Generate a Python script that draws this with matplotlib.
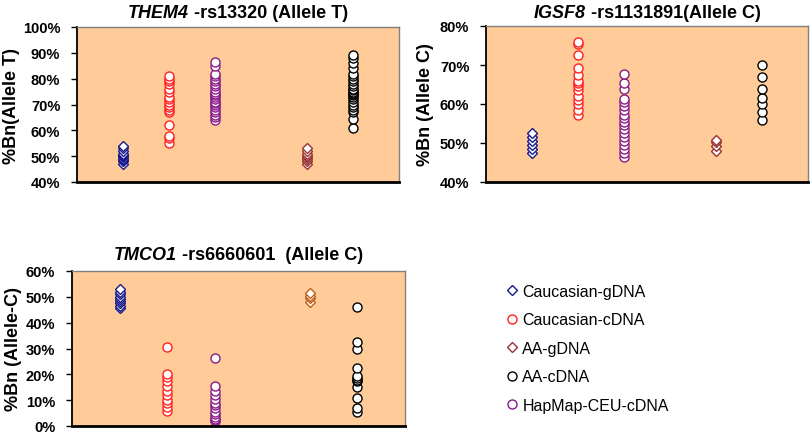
import numpy as np
import matplotlib
matplotlib.use('Agg')
import matplotlib.pyplot as plt

plt.rcParams['font.family'] = ['Liberation Sans', 'DejaVu Sans']

# x slot of each group on every panel
groups = ['Caucasian-gDNA', 'Caucasian-cDNA', 'HapMap-CEU-cDNA', 'AA-gDNA', 'AA-cDNA']
group_x = [1, 2, 3, 5, 6]
legend_order = ['Caucasian-gDNA', 'Caucasian-cDNA', 'AA-gDNA', 'AA-cDNA', 'HapMap-CEU-cDNA']

# THEM4 - rs13320 (Allele T), values in %
them4_cau_g = [47, 48, 48.5, 49, 49.5, 50, 50.5, 51, 52, 53, 54]
them4_cau_c = [55, 57, 58, 62, 67, 68, 69, 70, 71, 72, 73, 75, 76, 78, 79, 80, 81]
them4_hapmap = [64, 65, 66, 67, 68, 69, 70, 70.5, 71, 72, 73, 73.5, 74, 75, 76, 77,
                78, 79, 80, 81, 82, 85, 86.5]
them4_aa_g = [47, 48, 49, 49.5, 50, 51, 52, 53]
them4_aa_c = [61, 64.5, 67, 68, 69, 70, 71, 72, 73, 73.5, 74, 74.5, 75, 75.5, 76, 77,
              78, 79, 80, 81, 82, 84, 86, 88, 89]

# IGSF8 - rs1131891 (Allele C)
igsf8_cau_g = [47.5, 48.5, 49.5, 50.5, 51.5, 52.5]
igsf8_cau_c = [57.3, 58.5, 60, 61, 62, 63.5, 64.5, 65.3, 66, 67.5, 69.2, 72.5, 75.5, 75.8]
igsf8_hapmap = [46.3, 47.5, 48.5, 49.5, 50.5, 51.5, 52.5, 53.5, 54.5, 55.5, 56.5, 57.3,
                58.5, 59.5, 60.5, 61.3, 63.8, 65.5, 67.7]
igsf8_aa_g = [48, 49.3, 50.2, 50.8]
igsf8_aa_c = [56, 58, 60, 61.5, 63.8, 67, 70]

# TMCO1 - rs6660601 (Allele C)
tmco1_cau_g = [45.5, 46.5, 47.5, 48.5, 49, 50, 51, 52, 53]
tmco1_cau_c = [6, 7.5, 9, 10, 12, 13.5, 15.5, 17.5, 19, 20, 30.5]
tmco1_hapmap = [1.8, 2.2, 2.8, 3.5, 4.5, 5.5, 7, 8, 9, 10.5, 12, 13.7, 15.3, 26.2]
tmco1_aa_g = [48, 49.5, 50.5, 51.5]
tmco1_aa_c = [5.4, 7, 11, 15, 17.5, 18, 18.5, 19.3, 22.5, 30, 32.5, 46.2]

markers = {'Caucasian-gDNA': 'D', 'Caucasian-cDNA': 'o', 'HapMap-CEU-cDNA': 'o',
           'AA-gDNA': 'D', 'AA-cDNA': 'o'}
colors = {'Caucasian-gDNA': '#1a1a8c', 'Caucasian-cDNA': '#ff2020',
          'HapMap-CEU-cDNA': '#8a1a8a', 'AA-gDNA': '#993333', 'AA-cDNA': '#000000'}

bg = '#FFCC99'

fig = plt.figure(figsize=(8.10, 4.39), dpi=100)

W, H = 810.0, 439.0
def px_axes(left, top, right, bottom):
    return fig.add_axes([left / W, 1 - bottom / H, (right - left) / W, (bottom - top) / H])

ax1 = px_axes(77, 28, 399, 183)
ax2 = px_axes(486, 27, 808, 183)
ax3 = px_axes(72, 272, 405, 427)

panels = [
    (ax1, [them4_cau_g, them4_cau_c, them4_hapmap, them4_aa_g, them4_aa_c],
     (40, 100), 'THEM4', ' -rs13320 (Allele T)', '%Bn(Allele T)', -0.202, '#993333'),
    (ax2, [igsf8_cau_g, igsf8_cau_c, igsf8_hapmap, igsf8_aa_g, igsf8_aa_c],
     (40, 80), 'IGSF8', ' -rs1131891(Allele C)', '%Bn (Allele C)', -0.189, '#993333'),
    (ax3, [tmco1_cau_g, tmco1_cau_c, tmco1_hapmap, tmco1_aa_g, tmco1_aa_c],
     (0, 60), 'TMCO1', ' -rs6660601  (Allele C)', '%Bn (Allele-C)', -0.177, '#c0601a'),
]

handles = {}
title_y = [17.5, 17.5, 260]
renderer = fig.canvas.get_renderer()

for i, (ax, data, ylim, gene, rest, ylab, labx, brown) in enumerate(panels):
    ax.set_facecolor(bg)
    for g, xpos, vals in zip(groups, group_x, data):
        c = brown if g == 'AA-gDNA' else colors[g]
        ln, = ax.plot(np.full(len(vals), xpos), vals, linestyle='none',
                      marker=markers[g], markersize=6.5 if markers[g] == 'o' else 5.5,
                      markerfacecolor='white', markeredgecolor=c, markeredgewidth=1.0,
                      label=g)
        if i == 0:
            handles[g] = ln
    ax.set_xlim(0, 7)
    ax.set_ylim(*ylim)
    ax.set_yticks(np.arange(ylim[0], ylim[1] + 1, 10))
    ax.set_yticklabels(['%d%%' % v for v in np.arange(ylim[0], ylim[1] + 1, 10)],
                       fontsize=10.5, fontweight='bold')
    ax.set_xticks([])
    ax.tick_params(axis='y', direction='out', length=4, width=1, pad=8)
    ax.spines['left'].set_linewidth(1.3)
    ax.spines['bottom'].set_linewidth(2)
    ax.spines['bottom'].set_color('black')
    for s in ['top', 'right']:
        ax.spines[s].set_color('#808080')
        ax.spines[s].set_linewidth(1)
    ax.set_ylabel(ylab, fontsize=13, fontweight='bold', va='center')
    ax.yaxis.set_label_coords(labx, 0.5)

    # title: italic gene name followed by plain bold text, centred over the plot
    y = 1 - title_y[i] / H
    t1 = fig.text(0, y, gene, fontsize=13, fontweight='bold', style='italic', va='baseline')
    t2 = fig.text(0, y, rest, fontsize=13, fontweight='bold', va='baseline')
    w1 = t1.get_window_extent(renderer).width / fig.bbox.width
    w2 = t2.get_window_extent(renderer).width / fig.bbox.width
    pos = ax.get_position()
    x0 = (pos.x0 + pos.x1) / 2 - (w1 + w2) / 2
    t1.set_x(x0)
    t2.set_x(x0 + w1)

fig.legend([handles[g] for g in legend_order], legend_order,
           loc='upper left', bbox_to_anchor=(505.6 / W, 1 - 285 / H),
           frameon=False, fontsize=11.5, handlelength=0.8, handletextpad=0.25,
           labelspacing=0.84, borderpad=0, borderaxespad=0)

fig.savefig('out.png', dpi=100)
